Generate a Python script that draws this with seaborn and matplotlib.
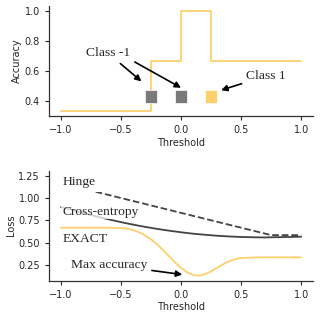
import matplotlib
matplotlib.use("Agg")
import matplotlib.pyplot as plt
from matplotlib.ticker import MultipleLocator
import seaborn as sns

# top panel: accuracy as a function of the threshold (step curve)
acc_threshold = [-1.0, -0.25, 0.0, 0.25, 1.0]
accuracy = [0.333, 0.667, 1.0, 0.667, 0.667]

# the three data points
point_x = [-0.25, 0.0, 0.25]
point_y = [0.43, 0.43, 0.43]
point_class = ["-1", "-1", "1"]

# bottom panel: losses
hinge_threshold = [-1.0, -0.75, 0.75, 1.0]
hinge_loss = [1.25, 1.083, 0.583, 0.583]

ce_threshold = [-1.0, -0.9, -0.8, -0.7, -0.6, -0.5, -0.4, -0.3, -0.2, -0.1, 0.0,
                0.1, 0.2, 0.3, 0.4, 0.5, 0.6, 0.7, 0.8, 0.9, 1.0]
ce_loss = [0.898, 0.862, 0.826, 0.791, 0.759, 0.729, 0.701, 0.676, 0.653, 0.633, 0.615,
           0.599, 0.587, 0.576, 0.568, 0.562, 0.559, 0.557, 0.560, 0.562, 0.565]

exact_threshold = [-1.0, -0.9, -0.8, -0.7, -0.6, -0.5, -0.45, -0.4, -0.35, -0.3, -0.25,
                   -0.2, -0.15, -0.1, -0.05, 0.0, 0.05, 0.1, 0.15, 0.2, 0.25, 0.3,
                   0.35, 0.4, 0.45, 0.5, 0.6, 0.7, 0.8, 0.9, 1.0]
exact_loss = [0.667, 0.667, 0.667, 0.667, 0.666, 0.662, 0.655, 0.640, 0.615, 0.580, 0.535,
              0.480, 0.415, 0.345, 0.275, 0.215, 0.165, 0.135, 0.128, 0.145, 0.175, 0.215,
              0.255, 0.290, 0.313, 0.325, 0.332, 0.333, 0.333, 0.333, 0.333]

YELLOW = "#fdd06c"
GRAY = "#7a7a7a"
DARK = "#444444"
SERIF = ["Liberation Serif", "DejaVu Serif"]
ANN_SIZE = 9.7

sns.set_style("ticks")
plt.rcParams.update({
    "font.family": ["DejaVu Sans"],
    "font.size": 7,
    "axes.labelsize": 7,
    "xtick.labelsize": 7,
    "ytick.labelsize": 7,
    "axes.linewidth": 0.9,
    "axes.edgecolor": "#333333",
    "xtick.major.size": 3,
    "ytick.major.size": 3,
    "xtick.major.width": 0.8,
    "ytick.major.width": 0.8,
    "axes.labelpad": 2,
})

fig, (ax1, ax2) = plt.subplots(2, 1, figsize=(3.31, 3.16), dpi=100)
fig.subplots_adjust(left=0.148, right=0.946, top=0.981, bottom=0.112, hspace=0.5)

# --- accuracy panel
sns.lineplot(x=acc_threshold, y=accuracy, drawstyle="steps-post", color=YELLOW,
             lw=1.3, ax=ax1)
sns.scatterplot(x=point_x, y=point_y, hue=point_class, palette={"-1": GRAY, "1": YELLOW},
                marker="s", s=85, edgecolor="white", linewidth=0.5, legend=False,
                zorder=3, ax=ax1)

arrow = dict(arrowstyle="-|>", color="black", lw=1.2, shrinkA=1, shrinkB=0,
             mutation_scale=9)
ax1.annotate("Class -1", xy=(-0.33, 0.53), xytext=(-0.606, 0.717), ha="center",
             va="center", fontsize=ANN_SIZE, family=SERIF, arrowprops=arrow)
ax1.annotate("Class -1", xy=(0.0, 0.487), xytext=(-0.606, 0.717), ha="center",
             va="center", fontsize=ANN_SIZE, family=SERIF, color="none",
             arrowprops=dict(arrow, relpos=(0.75, 0.5)))
ax1.annotate("Class 1", xy=(0.333, 0.471), xytext=(0.708, 0.566), ha="center",
             va="center", fontsize=ANN_SIZE, family=SERIF, arrowprops=arrow)

ax1.set_xlabel("Threshold")
ax1.set_ylabel("Accuracy")

# --- loss panel
sns.lineplot(x=hinge_threshold, y=hinge_loss, color=DARK, linestyle="--", lw=1.3, ax=ax2)
sns.lineplot(x=ce_threshold, y=ce_loss, color=DARK, lw=1.3, ax=ax2)
sns.lineplot(x=exact_threshold, y=exact_loss, color=YELLOW, lw=1.3, ax=ax2)

ax2.text(-0.99, 1.185, "Hinge", ha="left", va="center", fontsize=ANN_SIZE,
         family=SERIF, zorder=4,
         bbox=dict(facecolor="white", edgecolor="none", pad=3.5))
ax2.text(-0.99, 0.848, "Cross-entropy", ha="left", va="center", fontsize=ANN_SIZE,
         family=SERIF, zorder=4,
         bbox=dict(facecolor="white", edgecolor="none", alpha=0.75, pad=1))
ax2.text(-0.99, 0.543, "EXACT", ha="left", va="center", fontsize=ANN_SIZE,
         family=SERIF, zorder=4)
ax2.annotate("Max accuracy", xy=(0.01, 0.14), xytext=(-0.6, 0.25), ha="center",
             va="center", fontsize=ANN_SIZE, family=SERIF, arrowprops=arrow)

ax2.set_xlabel("Threshold")
ax2.set_ylabel("Loss")

for ax in (ax1, ax2):
    ax.xaxis.set_major_locator(MultipleLocator(0.5))

sns.despine(fig=fig)
fig.savefig("out.png", dpi=100)
